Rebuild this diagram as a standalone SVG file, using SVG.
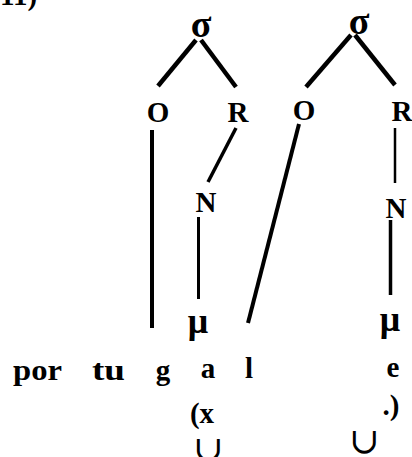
<svg xmlns="http://www.w3.org/2000/svg" width="412" height="457" viewBox="0 0 412 457">
  <style>
    .t { font-family: "Liberation Serif", "DejaVu Serif", serif; font-weight: bold; font-size: 29px; fill: #000; text-anchor: middle; }
    .w { font-family: "Liberation Serif", "DejaVu Serif", serif; font-weight: bold; font-size: 29px; fill: #000; }
    .g { font-family: "Liberation Serif", "DejaVu Serif", serif; font-weight: bold; font-size: 38px; fill: #000; text-anchor: middle; }
    .m { font-family: "Liberation Serif", "DejaVu Serif", serif; font-weight: bold; font-size: 36px; fill: #000; text-anchor: middle; }
    .sym { font-family: "DejaVu Serif", serif; font-size: 36px; fill: #000; text-anchor: middle; }
    .edge { stroke: #000; stroke-linecap: butt; fill: none; }
  </style>
  <rect width="412" height="457" fill="#fff"/>

  <!-- example number, cut by the top edge -->
  <text class="w" x="0" y="5">11)</text>

  <!-- tree connectors -->
  <g id="connectors">
    <line class="edge" x1="196" y1="40" x2="158" y2="86" stroke-width="4.5"/>
    <line class="edge" x1="201" y1="40" x2="236" y2="87" stroke-width="4.5"/>
    <line class="edge" x1="351" y1="35" x2="306" y2="87" stroke-width="4.5"/>
    <line class="edge" x1="355" y1="35" x2="395" y2="85" stroke-width="4.5"/>
    <line class="edge" x1="152" y1="130" x2="152" y2="328" stroke-width="4"/>
    <line class="edge" x1="236" y1="128" x2="208" y2="182" stroke-width="3.5"/>
    <line class="edge" x1="198.5" y1="217" x2="198.5" y2="299" stroke-width="3"/>
    <line class="edge" x1="299" y1="124" x2="248" y2="323" stroke-width="4"/>
    <line class="edge" x1="395" y1="128" x2="395" y2="183" stroke-width="2.5"/>
    <line class="edge" x1="390.5" y1="220" x2="390.5" y2="295" stroke-width="3.5"/>
  </g>

  <!-- first syllable -->
  <g id="sigma1"><text class="g" x="201" y="37">σ</text></g>
  <g id="onset1"><text class="t" x="158" y="122">O</text></g>
  <g id="rhyme1"><text class="t" x="238" y="122">R</text></g>
  <g id="nucleus1"><text class="t" x="206" y="212">N</text></g>
  <g id="mora1"><text class="m" x="198" y="333">μ</text></g>

  <!-- second syllable -->
  <g id="sigma2"><text class="g" x="359" y="34">σ</text></g>
  <g id="onset2"><text class="t" x="304" y="120">O</text></g>
  <g id="rhyme2"><text class="t" x="402" y="121">R</text></g>
  <g id="nucleus2"><text class="t" x="396" y="218">N</text></g>
  <g id="mora2"><text class="m" x="390" y="331">μ</text></g>

  <!-- segmental string -->
  <g id="segments">
    <text class="w" x="13" y="380" textLength="49" lengthAdjust="spacingAndGlyphs">por</text>
    <text class="w" x="92" y="380" textLength="33" lengthAdjust="spacingAndGlyphs">tu</text>
    <text class="t" x="163" y="380">g</text>
    <text class="t" x="208" y="378">a</text>
    <text class="t" x="249" y="378">l</text>
    <text class="t" x="393" y="377">e</text>
    <text class="t" x="202" y="423">(x</text>
    <text class="t" x="391" y="415">.)</text>
    <text class="sym" x="364" y="453">∪</text>
    <text class="sym" x="208" y="461">∪</text>
  </g>
</svg>
